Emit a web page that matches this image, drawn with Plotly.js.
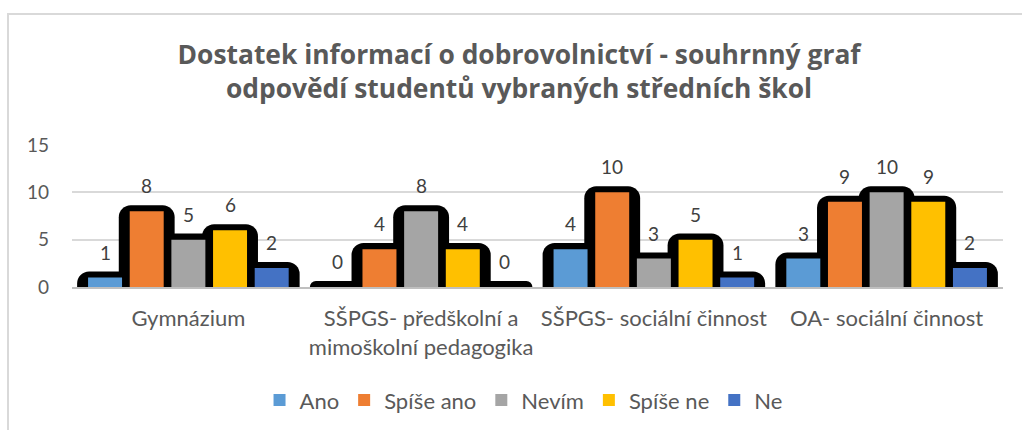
<!DOCTYPE html>
<html>
<head>
<meta charset="utf-8">
<script src="https://cdn.plot.ly/plotly-3.0.1.min.js"></script>
<style>
  html, body { margin: 0; padding: 0; background: #fff; width: 1022px; height: 430px; overflow: hidden; }
  #frame { position: absolute; left: 7px; top: 13px; border-top: 2px solid #d9d9d9; border-left: 2px solid #d9d9d9; width: 1013px; height: 415px; }
  #chart { width: 1013px; height: 415px; }
</style>
</head>
<body>
<div id="frame"><div id="chart"></div></div>
<script>
// ---- data ----
const categories = ['Gymnázium', 'SŠPGS- předškolní a mimoškolní pedagogika', 'SŠPGS- sociální činnost', 'OA- sociální činnost'];
const tickLabels = ['Gymnázium', 'SŠPGS- předškolní a<br>mimoškolní pedagogika', 'SŠPGS- sociální činnost', 'OA- sociální činnost'];
const seriesNames = ['Ano', 'Spíše ano', 'Nevím', 'Spíše ne', 'Ne'];
const ano      = [1, 0, 4, 3];
const spiseAno = [8, 4, 10, 9];
const nevim    = [5, 8, 3, 10];
const spiseNe  = [6, 4, 5, 9];
const ne       = [2, 0, 1, 2];
const yTicks   = [0, 5, 10, 15];
const titleText = 'Dostatek informací o dobrovolnictví - souhrnný graf<br>odpovědí studentů vybraných středních škol';

// ---- style ----
const seriesValues = [ano, spiseAno, nevim, spiseNe, ne];
const colors = ['#5B9BD5', '#EE7E32', '#A5A5A5', '#FFC000', '#4472C4'];
const PITCH = 0.179, BAR_W = 0.146, SHADOW_W = 0.24, SHADOW_PAD = 0.64;
const FONT = 'Lato, "Open Sans", sans-serif';

const traces = [];
// black rounded "glow" behind all bars
seriesValues.forEach((vals, k) => {
  const c = (k - 2) * PITCH;
  traces.push({
    type: 'bar', x: categories, y: vals.map(v => v + SHADOW_PAD),
    width: SHADOW_W, offset: c - SHADOW_W / 2,
    marker: { color: '#000000', cornerradius: 12, line: { width: 0 } },
    showlegend: false, hoverinfo: 'skip'
  });
});
seriesValues.forEach((vals, k) => {
  const c = (k - 2) * PITCH;
  traces.push({
    type: 'bar', name: seriesNames[k], x: categories, y: vals,
    width: BAR_W, offset: c - BAR_W / 2,
    marker: { color: colors[k], line: { width: 0 } }
  });
});

const annotations = [];
seriesValues.forEach((vals, k) => {
  const c = (k - 2) * PITCH;
  vals.forEach((v, i) => {
    annotations.push({
      x: i + c, y: v, xref: 'x', yref: 'y', text: String(v), showarrow: false,
      yanchor: 'bottom', xanchor: 'center', yshift: 12,
      font: { family: FONT, size: 19, color: '#404040' }
    });
  });
});

const layout = {
  width: 1013, height: 415,
  margin: { l: 63, r: 19, t: 130, b: 143, pad: 0, autoexpand: false },
  paper_bgcolor: '#ffffff', plot_bgcolor: '#ffffff',
  barmode: 'overlay',
  title: {
    text: titleText, x: 0.5035, xanchor: 'center', xref: 'container',
    y: 1 - 49 / 415, yanchor: 'middle', yref: 'container', automargin: false,
    font: { family: '"Open Sans", Lato, sans-serif', size: 26.4, color: '#595959', weight: 700 }
  },
  xaxis: {
    type: 'category', categoryorder: 'array', categoryarray: categories,
    tickvals: categories, ticktext: tickLabels,
    range: [-0.5, 3.5], showgrid: false, zeroline: false,
    showline: true, linecolor: '#bfbfbf', linewidth: 2,
    ticks: '', ticklabelstandoff: 11, automargin: false,
    tickfont: { family: FONT, size: 22, color: '#595959' }
  },
  yaxis: {
    range: [0, 15], tickvals: yTicks, ticktext: yTicks.map(String),
    showgrid: true, gridcolor: '#d9d9d9', gridwidth: 2,
    zeroline: false, showline: false, ticks: '', ticklabelstandoff: 22, automargin: false,
    tickfont: { family: FONT, size: 19, color: '#595959' }
  },
  legend: {
    orientation: 'h', x: 0.485, xanchor: 'center', y: -0.798, yanchor: 'middle',
    font: { family: FONT, size: 22, color: '#595959' },
    itemwidth: 30, traceorder: 'normal'
  },
  annotations: annotations,
  showlegend: true
};

Plotly.newPlot('chart', traces, layout, { displayModeBar: false, staticPlot: true });
</script>
</body>
</html>
